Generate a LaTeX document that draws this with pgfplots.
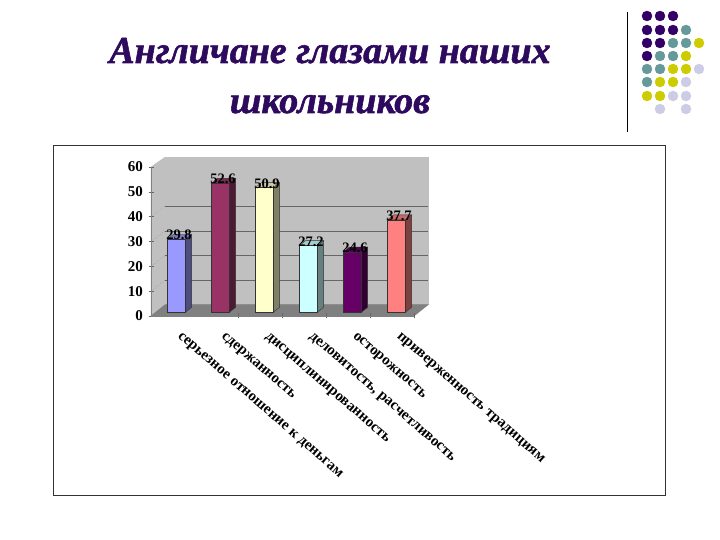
\documentclass[border=0pt]{standalone}
\usepackage{pgfplots}
\pgfplotsset{compat=1.18}
\usepackage{fontspec}
\setmainfont{Liberation Serif}
\newfontfamily\titlefont[BoldItalicFeatures={FakeBold=1.5}]{Liberation Serif}

\definecolor{dotpurple}{HTML}{330066}
\definecolor{dotteal}{HTML}{669999}
\definecolor{dotyellow}{HTML}{CCCC00}
\definecolor{dotlav}{HTML}{CCCCE6}
\definecolor{titlecol}{HTML}{2E0A5E}
\definecolor{wall}{HTML}{C0C0C0}
\definecolor{floorc}{HTML}{808080}
\definecolor{af}{HTML}{9999FF}\definecolor{as}{HTML}{4D4D80}\definecolor{at}{HTML}{7A7ACC}
\definecolor{bf}{HTML}{993366}\definecolor{bs}{HTML}{4D1A33}\definecolor{bt}{HTML}{7A2952}
\definecolor{cf}{HTML}{FFFFCC}\definecolor{cs}{HTML}{808066}\definecolor{ct}{HTML}{CCCCA3}
\definecolor{df}{HTML}{CCFFFF}\definecolor{ds}{HTML}{668080}\definecolor{dt}{HTML}{A3CCCC}
\definecolor{ef}{HTML}{660066}\definecolor{es}{HTML}{330033}\definecolor{et}{HTML}{520052}
\definecolor{ff}{HTML}{FF8080}\definecolor{fs}{HTML}{804040}\definecolor{ft}{HTML}{CC6666}

% one 3D column: position, value, colour prefix
\newcommand{\barbox}[3]{%
  \pgfmathsetmacro{\xl}{#1-0.2045}%
  \pgfmathsetmacro{\xr}{#1+0.2045}%
  \pgfmathsetmacro{\xb}{#1+0.3475}%
  \pgfmathsetmacro{\xc}{#1-0.0615}%
  \pgfmathsetmacro{\yb}{#2+2.04}%
  \addplot[fill=#3s,draw=black!80,line width=0.4pt] coordinates {(\xr,0) (\xb,2.04) (\xb,\yb) (\xr,#2)} --cycle;
  \addplot[fill=#3t,draw=black!80,line width=0.4pt] coordinates {(\xl,#2) (\xc,\yb) (\xb,\yb) (\xr,#2)} --cycle;
  \addplot[fill=#3f,draw=black!80,line width=0.4pt] coordinates {(\xl,0) (\xl,#2) (\xr,#2) (\xr,0)} --cycle;
  \node[font=\fontsize{14.5}{14.5}\selectfont\bfseries,inner sep=0pt] at (axis cs:#1+0.06,#2+1.7) {#2};
}

\begin{document}
\begin{tikzpicture}[x=1pt,y=1pt]
\useasboundingbox (0,0) rectangle (720,540);

% slide layer, in pixels from the top left
\begin{axis}[
    at={(0pt,0pt)}, anchor=south west,
    width=720pt, height=540pt, scale only axis,
    xmin=0, xmax=720, ymin=0, ymax=540, y dir=reverse,
    axis lines=none, clip=false
]
\addplot[black!80, line width=0.5pt] coordinates {(53,145) (665,145) (665,495) (53,495)} --cycle;
\addplot[black, line width=0.7pt] coordinates {(627.5,12) (627.5,132)};
\addplot[only marks, mark=*, mark size=5pt, color=dotpurple] coordinates {
    (647,16) (660,16) (673,16) (647,30) (660,30) (673,30)
    (647,43) (660,43) (647,56)
};
\addplot[only marks, mark=*, mark size=5pt, color=dotteal] coordinates {
    (686,30) (673,43) (686,43) (660,56) (673,56)
    (647,69) (660,69) (647,82)
};
\addplot[only marks, mark=*, mark size=5pt, color=dotyellow] coordinates {
    (699,43) (686,56) (673,69) (686,69) (660,82) (673,82)
    (647,96) (660,96)
};
\addplot[only marks, mark=*, mark size=5pt, color=dotlav] coordinates {
    (699,69) (686,82) (673,96) (686,96) (660,109) (686,109)
};
\node[font=\titlefont\fontsize{38}{38}\selectfont\bfseries\itshape, text=titlecol, inner sep=0pt, anchor=base] at (axis cs:330,63) {Англичане глазами наших};
\node[font=\titlefont\fontsize{38}{38}\selectfont\bfseries\itshape, text=titlecol, inner sep=0pt, anchor=base] at (axis cs:330,113) {школьников};
\end{axis}

% walls, floor and axes of the chart
\begin{axis}[
    at={(151pt,224pt)}, anchor=south west,
    width=263pt, height=149pt, scale only axis,
    xmin=0, xmax=6, ymin=0, ymax=60,
    axis x line=bottom, axis y line=left,
    axis line style={-, black!50, line width=0.5pt},
    axis on top, clip=false,
    ytick={0,10,...,60},
    xtick={1,2,3,4,5,6},
    minor xtick={2,3,4,5,6},
    major tick length=5pt,
    minor tick length=5pt,
    major x tick style={draw=none},
    minor x tick style={draw=black!60, line width=0.5pt},
    y tick style={black!60, line width=0.5pt},
    tick pos=lower,
    xticklabels={серьезное отношение к деньгам, сдержанность, дисциплинированность, {деловитость, расчетливость}, осторожность, приверженность традициям},
    x tick label style={rotate=-41, anchor=west, xshift=-1.2pt, yshift=-23.5pt, inner sep=0pt},
    y tick label style={xshift=-2pt},
    tick label style={font=\fontsize{15}{15}\selectfont\bfseries},
    /pgf/number format/assume math mode=true
]
\addplot[fill=wall, draw=wall, line width=0.5pt] coordinates {(0.326,4.6) (6.326,4.6) (6.326,64) (0.326,64)} --cycle;
\addplot[fill=wall, draw=wall, line width=0.5pt] coordinates {(0,0) (0.326,4.6) (0.326,64) (0,60)} --cycle;
\addplot[fill=floorc, draw=floorc, line width=0.5pt] coordinates {(0,0) (6,0) (6.326,4.6) (0.326,4.6)} --cycle;
\addplot[black!60, line width=0.6pt] coordinates {(0.326,14.5) (6.326,14.5)};
\addplot[black!60, line width=0.6pt] coordinates {(0.326,24.4) (6.326,24.4)};
\addplot[black!60, line width=0.6pt] coordinates {(0.326,34.3) (6.326,34.3)};
\addplot[black!60, line width=0.6pt] coordinates {(0.326,44.2) (6.326,44.2)};
\addplot[black!55, dotted, line width=0.4pt] coordinates {(0,10) (0.326,14.5)};
\addplot[black!55, dotted, line width=0.4pt] coordinates {(0,20) (0.326,24.4)};
\addplot[black!55, dotted, line width=0.4pt] coordinates {(0,30) (0.326,34.3)};
\addplot[black!55, dotted, line width=0.4pt] coordinates {(0,40) (0.326,44.2)};
\end{axis}

% the columns
\begin{axis}[
    at={(132.3pt,227.7pt)}, anchor=south west,
    width=308pt, height=147pt, scale only axis,
    xmin=-1, xmax=6, ymin=0, ymax=60,
    axis lines=none, clip=false
]
\barbox{0}{29.8}{a}
\barbox{1}{52.6}{b}
\barbox{2}{50.9}{c}
\barbox{3}{27.2}{d}
\barbox{4}{24.6}{e}
\barbox{5}{37.7}{f}
\end{axis}
\end{tikzpicture}
\end{document}
